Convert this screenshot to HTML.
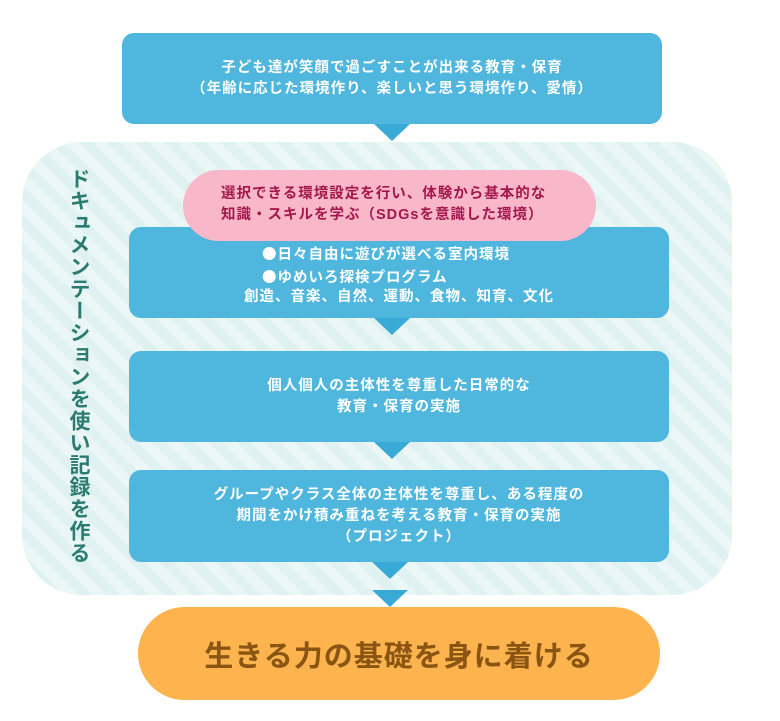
<!DOCTYPE html>
<html><head><meta charset="utf-8"><style>
body{margin:0;width:780px;height:721px;background:#fff;position:relative;overflow:hidden;font-family:"Liberation Sans","Noto Sans CJK JP",sans-serif;font-weight:bold}
div{position:absolute;box-sizing:border-box}
.blue{background:#4fb6dd;border-radius:12px;color:#fff;font-size:14.5px;letter-spacing:1px;line-height:21px;text-align:center;display:flex;align-items:center;justify-content:center;flex-direction:column}
.arr{width:0;height:0;border-left:18px solid transparent;border-right:18px solid transparent;border-top:17px solid #39a9d6}
.b{font-family:"Noto Sans CJK JP",sans-serif}
</style></head><body>
<div style="left:22px;top:142px;width:710px;height:453px;border-radius:60px;background:repeating-linear-gradient(45deg,#dff2f1 0 10px,#ebf7f6 10px 20px)"></div>
<div class="blue" style="left:122px;top:33px;width:540px;height:91px">子ども達が笑顔で過ごすことが出来る教育・保育<br>（年齢に応じた環境作り、楽しいと思う環境作り、愛情）</div>
<div class="arr" style="left:374px;top:124px"></div>
<div style="left:62px;top:168px;width:28px;font-size:21px;line-height:24px;color:#2b7b72;writing-mode:vertical-rl;letter-spacing:1px">ドキュメンテーションを使い記録を作る</div>
<div class="blue" style="left:129px;top:227px;width:540px;height:91px;padding-top:6px">
<span style="position:absolute;left:133px;top:16px;text-align:left"><span class="b">●</span>日々自由に遊びが選べる室内環境<br><span class="b">●</span>ゆめいろ探検プログラム</span>
<span style="position:absolute;left:0;right:0;top:60px">創造、音楽、自然、運動、食物、知育、文化</span></div>
<div style="left:183px;top:170px;width:413px;height:71px;border-radius:36px;background:#f9b7ca;color:#a3174c;font-size:14.5px;letter-spacing:1px;line-height:21px;padding:14px 0 0 38px">選択できる環境設定を行い、体験から基本的な<br>知識・スキルを学ぶ（SDGsを意識した環境）</div>
<div class="arr" style="left:374px;top:318px"></div>
<div class="blue" style="left:129px;top:351px;width:540px;height:91px">個人個人の主体性を尊重した日常的な<br>教育・保育の実施</div>
<div class="arr" style="left:374px;top:442px"></div>
<div class="blue" style="left:129px;top:470px;width:540px;height:92px">グループやクラス全体の主体性を尊重し、ある程度の<br>期間をかけ積み重ねを考える教育・保育の実施<br>（プロジェクト）</div>
<div class="arr" style="left:372px;top:562px"></div>
<div class="arr" style="left:372px;top:590px"></div>
<div style="left:138px;top:607px;width:522px;height:93px;border-radius:47px;background:#fdb44f;color:#8a5512;font-size:29px;display:flex;align-items:center;justify-content:center;letter-spacing:1px">生きる力の基礎を身に着ける</div>
</body></html>
